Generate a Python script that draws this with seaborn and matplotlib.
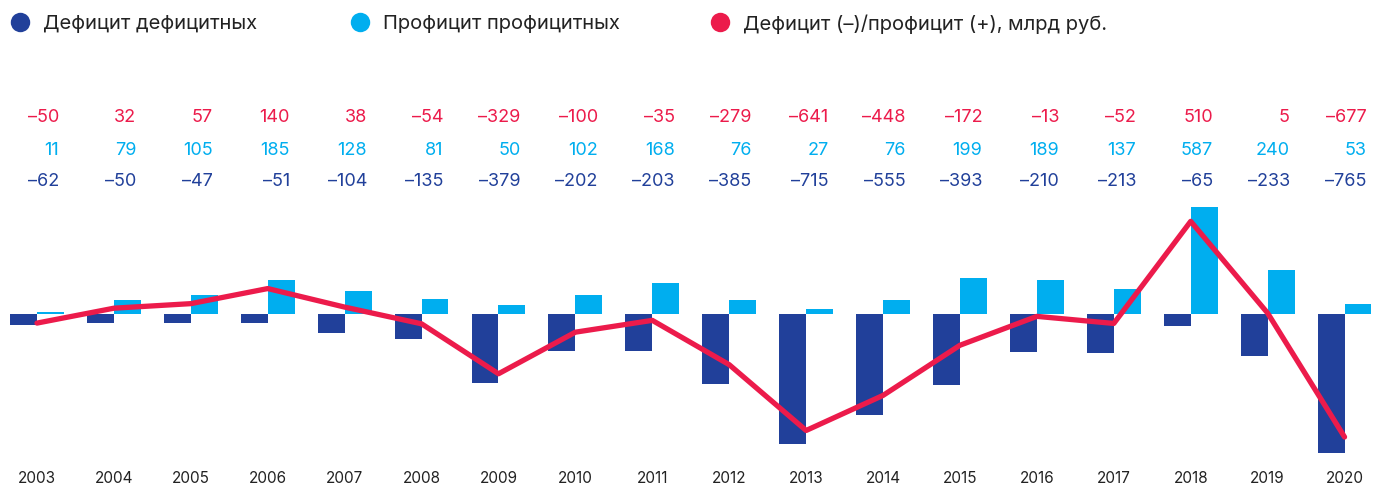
import numpy as np
import pandas as pd
import matplotlib
matplotlib.use("Agg")
import matplotlib.pyplot as plt
import matplotlib.transforms as mtransforms
from matplotlib.lines import Line2D
import seaborn as sns

years = [str(y) for y in range(2003, 2021)]
deficit = [-62, -50, -47, -51, -104, -135, -379, -202, -203, -385, -715, -555, -393, -210, -213, -65, -233, -765]
surplus = [11, 79, 105, 185, 128, 81, 50, 102, 168, 76, 27, 76, 199, 189, 137, 587, 240, 53]
net = [-50, 32, 57, 140, 38, -54, -329, -100, -35, -279, -641, -448, -172, -13, -52, 510, 5, -677]

series_names = ["Дефицит дефицитных", "Профицит профицитных", "Дефицит (–)/профицит (+), млрд руб."]
c_def = "#21409A"
c_sur = "#00AEEF"
c_net = "#EC1B4B"
c_text = "#222222"

sns.set_theme(style="white")
plt.rcParams["font.family"] = ["Inter", "DejaVu Sans"]

W, H = 1373, 486
fig = plt.figure(figsize=(W / 100, H / 100), dpi=100)
ax = fig.add_axes([0, (H - 460) / H, 1, 260 / H])

df = pd.DataFrame({
    "year": years * 2,
    "value": deficit + surplus,
    "kind": [series_names[0]] * len(years) + [series_names[1]] * len(years),
})
sns.barplot(data=df, x="year", y="value", hue="kind", order=years,
            hue_order=series_names[:2], palette=[c_def, c_sur],
            width=0.7, saturation=1, dodge=True, legend=False,
            linewidth=0, ax=ax, zorder=2)

pos = np.arange(len(years))
sns.lineplot(x=pos, y=net, color=c_net, linewidth=3.8, ax=ax,
             solid_capstyle="round", solid_joinstyle="round", zorder=3)

ax.set_xlim(-0.481, 17.37)
ax.set_ylim(-803.5, 627.4)
for s in ax.spines.values():
    s.set_visible(False)
ax.set_yticks([])
ax.set_xticks(pos)
ax.set_xticklabels(years, fontsize=11, color=c_text)
ax.tick_params(axis="x", length=0, pad=8)
ax.set_xlabel("")
ax.set_ylabel("")

# value rows above the plot
trans = mtransforms.blended_transform_factory(ax.transData, fig.transFigure)
rows = [(net, c_net, 118), (surplus, c_sur, 150), (deficit, c_def, 181)]
for vals, col, ypx in rows:
    for i, v in enumerate(vals):
        txt = f"{v}".replace("-", "–")
        ax.text(i + 0.29, 1 - ypx / H, txt, transform=trans, ha="right",
                va="center", fontsize=13, color=col)

# legend row along the top edge
legend_items = [(series_names[0], c_def, 20), (series_names[1], c_sur, 360), (series_names[2], c_net, 720)]
for label, col, xpx in legend_items:
    fig.add_artist(Line2D([xpx / W], [1 - 22 / H], marker="o", linestyle="",
                          markersize=14, markerfacecolor=col, markeredgewidth=0,
                          transform=fig.transFigure))
    fig.text((xpx + 23) / W, 1 - 24 / H, label, ha="left", va="center",
             fontsize=14.5, color=c_text)

fig.savefig("out.png", dpi=100)
